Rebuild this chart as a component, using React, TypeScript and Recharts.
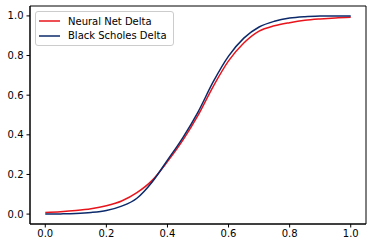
import { LineChart, Line, XAxis, YAxis, Legend, ReferenceArea } from 'recharts';

const moneyness = [0, 0.05, 0.1, 0.15, 0.2, 0.25, 0.3, 0.35, 0.4, 0.45, 0.5, 0.55, 0.6, 0.65, 0.7, 0.75, 0.8, 0.85, 0.9, 0.95, 1.0];
const neuralNetDelta = [0.008, 0.012, 0.018, 0.027, 0.042, 0.066, 0.108, 0.17, 0.265, 0.372, 0.498, 0.645, 0.773, 0.863, 0.923, 0.95, 0.966, 0.978, 0.985, 0.99, 0.993];
const blackScholesDelta = [0.0, 0.001, 0.003, 0.008, 0.018, 0.04, 0.08, 0.162, 0.272, 0.385, 0.515, 0.668, 0.797, 0.888, 0.944, 0.973, 0.989, 0.996, 0.999, 1.0, 1.0];
const seriesNames = ['Neural Net Delta', 'Black Scholes Delta'];
const xTicks = [0, 0.2, 0.4, 0.6, 0.8, 1.0];
const yTicks = [0, 0.2, 0.4, 0.6, 0.8, 1.0];

const data = moneyness.map((m, i) => ({
    x: m,
    nn: neuralNetDelta[i],
    bs: blackScholesDelta[i],
}));

const FONT = 'DejaVu Sans, sans-serif';
const RED = '#e8141c';
const NAVY = '#0c2a6b';
const DOMAIN: [number, number] = [-0.05, 1.05];

// leyenda estilo matplotlib, en el orden de las series
const BoxLegend = ({ payload }: { payload?: Array<{ value: string; color: string }> }) => {
    const items = [...(payload || [])].sort((a, b) => seriesNames.indexOf(a.value) - seriesNames.indexOf(b.value));
    return (
        <div
            style={{
                border: '1px solid #cccccc',
                borderRadius: 3,
                background: 'rgba(255,255,255,0.8)',
                padding: '2px 6px 2px 3px',
                fontFamily: FONT,
                fontSize: 10,
                color: '#000',
            }}
        >
            {items.map((entry, i) => (
                <div key={`leg-${i}`} style={{ display: 'flex', alignItems: 'center', height: 14.4 }}>
                    <svg width={21} height={4} style={{ marginRight: 8 }}>
                        <line x1={0} y1={2} x2={21} y2={2} stroke={entry.color} strokeWidth={1.5} />
                    </svg>
                    <span>{entry.value}</span>
                </div>
            ))}
        </div>
    );
};

export default function App() {
    return (
        <div style={{ position: 'absolute', left: 0, top: 0, width: 372, height: 248, background: '#fff' }}>
            <LineChart width={372} height={248} data={data} margin={{ top: 6, right: 6, left: 0, bottom: 0 }}>
                <XAxis
                    dataKey="x"
                    type="number"
                    domain={DOMAIN}
                    ticks={xTicks}
                    tickFormatter={(v: number) => v.toFixed(1)}
                    height={24}
                    tickSize={3.5}
                    tickMargin={2}
                    stroke="#000"
                    tick={{ fontSize: 10, fill: '#000', fontFamily: FONT }}
                />
                <YAxis
                    type="number"
                    domain={DOMAIN}
                    ticks={yTicks}
                    tickFormatter={(v: number) => v.toFixed(1)}
                    width={30}
                    tickSize={3.5}
                    tickMargin={3}
                    stroke="#000"
                    tick={{ fontSize: 10, fill: '#000', fontFamily: FONT }}
                />
                <ReferenceArea x1={DOMAIN[0]} x2={DOMAIN[1]} y1={DOMAIN[0]} y2={DOMAIN[1]} fill="none" stroke="#000" strokeWidth={1} ifOverflow="visible" />
                <Legend
                    layout="vertical"
                    align="center"
                    verticalAlign="middle"
                    content={<BoxLegend />}
                    wrapperStyle={{ left: 35, top: 11, width: 'auto' }}
                />
                <Line
                    type="monotone"
                    dataKey="nn"
                    name={seriesNames[0]}
                    stroke={RED}
                    strokeWidth={1.5}
                    dot={false}
                    isAnimationActive={false}
                />
                <Line
                    type="monotone"
                    dataKey="bs"
                    name={seriesNames[1]}
                    stroke={NAVY}
                    strokeWidth={1.5}
                    dot={false}
                    isAnimationActive={false}
                />
            </LineChart>
        </div>
    );
}
